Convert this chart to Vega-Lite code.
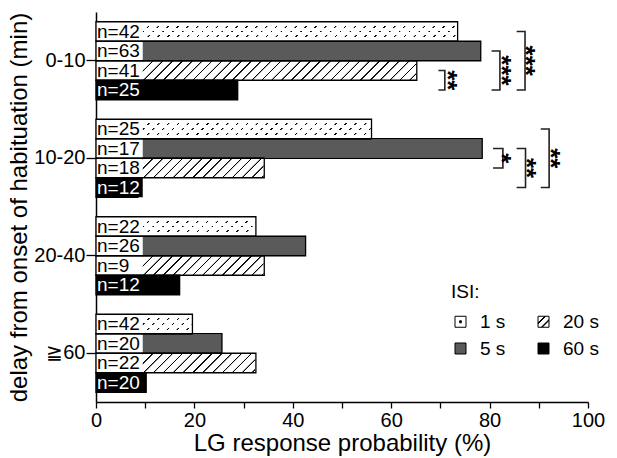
{
"$schema": "https://vega.github.io/schema/vega-lite/v6.json",
"width": 492, "height": 390,
"autosize": {"type": "none"},
"padding": {"left": 96, "top": 12, "right": 29, "bottom": 56},
"config": {
  "view": {"stroke": null},
  "font": "Liberation Sans",
  "axis": {"domainColor": "#000", "domainWidth": 1.5, "tickColor": "#000", "tickWidth": 1.3, "labelColor": "#000", "titleColor": "#000", "labelFontSize": 20, "titleFontSize": 24, "titleFontWeight": "normal", "grid": false}
},
"datasets": {
  "bars": [
    {"delay": "0-10", "isi": "1 s", "p": 73.5, "label": "n=42"},
    {"delay": "0-10", "isi": "5 s", "p": 78.2, "label": "n=63"},
    {"delay": "0-10", "isi": "20 s", "p": 65.2, "label": "n=41"},
    {"delay": "0-10", "isi": "60 s", "p": 28.8, "label": "n=25"},
    {"delay": "10-20", "isi": "1 s", "p": 56.0, "label": "n=25"},
    {"delay": "10-20", "isi": "5 s", "p": 78.5, "label": "n=17"},
    {"delay": "10-20", "isi": "20 s", "p": 34.2, "label": "n=18"},
    {"delay": "10-20", "isi": "60 s", "p": 8.5, "label": "n=12"},
    {"delay": "20-40", "isi": "1 s", "p": 32.5, "label": "n=22"},
    {"delay": "20-40", "isi": "5 s", "p": 42.6, "label": "n=26"},
    {"delay": "20-40", "isi": "20 s", "p": 34.2, "label": "n=9"},
    {"delay": "20-40", "isi": "60 s", "p": 17.0, "label": "n=12"},
    {"delay": "≧60", "isi": "1 s", "p": 19.6, "label": "n=42"},
    {"delay": "≧60", "isi": "5 s", "p": 25.6, "label": "n=20"},
    {"delay": "≧60", "isi": "20 s", "p": 32.5, "label": "n=22"},
    {"delay": "≧60", "isi": "60 s", "p": 10.2, "label": "n=20"}
  ],
  "brackets": [
    {"b": 1, "o": 1, "delay": "0-10", "isi": "20 s", "x": 69.6},
    {"b": 1, "o": 2, "delay": "0-10", "isi": "20 s", "x": 70.9},
    {"b": 1, "o": 3, "delay": "0-10", "isi": "60 s", "x": 70.9},
    {"b": 1, "o": 4, "delay": "0-10", "isi": "60 s", "x": 69.6},
    {"b": 2, "o": 1, "delay": "0-10", "isi": "5 s", "x": 80.4},
    {"b": 2, "o": 2, "delay": "0-10", "isi": "5 s", "x": 82.1},
    {"b": 2, "o": 3, "delay": "0-10", "isi": "60 s", "x": 82.1},
    {"b": 2, "o": 4, "delay": "0-10", "isi": "60 s", "x": 80.4},
    {"b": 3, "o": 1, "delay": "0-10", "isi": "1 s", "x": 85.5},
    {"b": 3, "o": 2, "delay": "0-10", "isi": "1 s", "x": 87.2},
    {"b": 3, "o": 3, "delay": "0-10", "isi": "60 s", "x": 87.2},
    {"b": 3, "o": 4, "delay": "0-10", "isi": "60 s", "x": 85.5},
    {"b": 4, "o": 1, "delay": "10-20", "isi": "5 s", "x": 80.7},
    {"b": 4, "o": 2, "delay": "10-20", "isi": "5 s", "x": 82.7},
    {"b": 4, "o": 3, "delay": "10-20", "isi": "20 s", "x": 82.7},
    {"b": 4, "o": 4, "delay": "10-20", "isi": "20 s", "x": 80.7},
    {"b": 5, "o": 1, "delay": "10-20", "isi": "5 s", "x": 85.5},
    {"b": 5, "o": 2, "delay": "10-20", "isi": "5 s", "x": 87.3},
    {"b": 5, "o": 3, "delay": "10-20", "isi": "60 s", "x": 87.3},
    {"b": 5, "o": 4, "delay": "10-20", "isi": "60 s", "x": 85.5},
    {"b": 6, "o": 1, "delay": "10-20", "isi": "1 s", "x": 90.4},
    {"b": 6, "o": 2, "delay": "10-20", "isi": "1 s", "x": 92.1},
    {"b": 6, "o": 3, "delay": "10-20", "isi": "60 s", "x": 92.1},
    {"b": 6, "o": 4, "delay": "10-20", "isi": "60 s", "x": 90.4}
  ],
  "stars": [
    {"delay": "0-10", "isi": "20 s", "pos": "edge", "x": 72.7, "s": "**"},
    {"delay": "0-10", "isi": "20 s", "pos": "mid", "x": 83.7, "s": "***"},
    {"delay": "0-10", "isi": "5 s", "pos": "edge", "x": 88.6, "s": "***"},
    {"delay": "10-20", "isi": "5 s", "pos": "edge", "x": 83.8, "s": "*"},
    {"delay": "10-20", "isi": "20 s", "pos": "mid", "x": 88.8, "s": "**"},
    {"delay": "10-20", "isi": "5 s", "pos": "edge", "x": 93.6, "s": "**"}
  ]
},
"layer": [
  {
    "data": {"name": "bars"},
    "mark": {"type": "bar"},
    "encoding": {
      "x": {"field": "p", "type": "quantitative", "scale": {"domain": [0, 100], "nice": false},
        "axis": {"title": "LG response probability (%)", "values": [0,10,20,30,40,50,60,70,80,90,100], "labelExpr": "datum.value % 20 == 0 ? datum.label : ''", "tickSize": 6, "labelPadding": 2, "titlePadding": 1, "labelFlush": false, "labelOverlap": false}},
      "y": {"field": "delay", "type": "nominal", "scale": {"domain": ["0-10", "10-20", "20-40", "≧60"], "paddingInner": 0.2, "paddingOuter": 0.1},
        "axis": {"title": "delay from onset of habituation (min)", "tickSize": 10, "labelPadding": 1, "titlePadding": 2}},
      "yOffset": {"field": "isi", "type": "nominal", "scale": {"domain": ["1 s", "5 s", "20 s", "60 s"], "paddingInner": 0, "paddingOuter": 0}},
      "fill": {"field": "isi", "type": "nominal",
        "scale": {"domain": ["1 s", "5 s", "20 s", "60 s"],
          "range": [
            {"expr": "{gradient: 'radial', x1: 0.5, y1: 0.5, r1: 0, x2: 0.5, y2: 0.5, r2: 0.5, stops: [{offset: 0, color: '#000'}, {offset: 0.22, color: '#000'}, {offset: 0.32, color: '#fff'}, {offset: 1, color: '#fff'}]}"},
            "#5a5a5a",
            {"expr": "{gradient: 'linear', x1: 0, y1: 0, x2: 1, y2: 1, stops: [{offset: 0, color: '#fff'}, {offset: 0.27, color: '#fff'}, {offset: 0.3, color: '#000'}, {offset: 0.36, color: '#000'}, {offset: 0.39, color: '#fff'}, {offset: 0.61, color: '#fff'}, {offset: 0.64, color: '#000'}, {offset: 0.7, color: '#000'}, {offset: 0.73, color: '#fff'}, {offset: 1, color: '#fff'}]}"},
            "#000"
          ]},
        "legend": {"orient": "none", "legendX": 355, "legendY": 271, "title": "ISI:", "titleFontSize": 19, "titleFontWeight": "normal", "titleColor": "#000", "titleFont": "Liberation Sans", "labelFontSize": 19, "labelColor": "#000", "labelFont": "Liberation Sans", "symbolType": "square", "symbolSize": 121, "symbolStrokeColor": "#000", "symbolStrokeWidth": 1, "columns": 2, "columnPadding": 28, "rowPadding": 7, "labelOffset": 10, "titlePadding": 10, "symbolOpacity": 1}}
    }
  },
  {
    "data": {"name": "bars"},
    "transform": [{"filter": "datum.isi == '1 s' || datum.isi == '20 s'"}],
    "mark": {"type": "bar", "fill": {"gradient": "linear", "x1": 0, "y1": 0, "x2": 1, "y2": 0.0397, "stops": [
      {"offset":0.014,"color":"#fff"},{"offset":0.015,"color":"#000"},{"offset":0.017,"color":"#000"},{"offset":0.018,"color":"#fff"},
      {"offset":0.034,"color":"#fff"},{"offset":0.035,"color":"#000"},{"offset":0.037,"color":"#000"},{"offset":0.038,"color":"#fff"},
      {"offset":0.054,"color":"#fff"},{"offset":0.055,"color":"#000"},{"offset":0.057,"color":"#000"},{"offset":0.058,"color":"#fff"},
      {"offset":0.074,"color":"#fff"},{"offset":0.075,"color":"#000"},{"offset":0.077,"color":"#000"},{"offset":0.078,"color":"#fff"},
      {"offset":0.094,"color":"#fff"},{"offset":0.095,"color":"#000"},{"offset":0.097,"color":"#000"},{"offset":0.098,"color":"#fff"},
      {"offset":0.114,"color":"#fff"},{"offset":0.115,"color":"#000"},{"offset":0.117,"color":"#000"},{"offset":0.118,"color":"#fff"},
      {"offset":0.134,"color":"#fff"},{"offset":0.135,"color":"#000"},{"offset":0.137,"color":"#000"},{"offset":0.138,"color":"#fff"},
      {"offset":0.154,"color":"#fff"},{"offset":0.155,"color":"#000"},{"offset":0.157,"color":"#000"},{"offset":0.158,"color":"#fff"},
      {"offset":0.174,"color":"#fff"},{"offset":0.175,"color":"#000"},{"offset":0.177,"color":"#000"},{"offset":0.178,"color":"#fff"},
      {"offset":0.194,"color":"#fff"},{"offset":0.195,"color":"#000"},{"offset":0.197,"color":"#000"},{"offset":0.198,"color":"#fff"},
      {"offset":0.214,"color":"#fff"},{"offset":0.215,"color":"#000"},{"offset":0.217,"color":"#000"},{"offset":0.218,"color":"#fff"},
      {"offset":0.234,"color":"#fff"},{"offset":0.235,"color":"#000"},{"offset":0.237,"color":"#000"},{"offset":0.238,"color":"#fff"},
      {"offset":0.254,"color":"#fff"},{"offset":0.255,"color":"#000"},{"offset":0.257,"color":"#000"},{"offset":0.258,"color":"#fff"},
      {"offset":0.274,"color":"#fff"},{"offset":0.275,"color":"#000"},{"offset":0.277,"color":"#000"},{"offset":0.278,"color":"#fff"},
      {"offset":0.294,"color":"#fff"},{"offset":0.295,"color":"#000"},{"offset":0.297,"color":"#000"},{"offset":0.298,"color":"#fff"},
      {"offset":0.314,"color":"#fff"},{"offset":0.315,"color":"#000"},{"offset":0.317,"color":"#000"},{"offset":0.318,"color":"#fff"},
      {"offset":0.334,"color":"#fff"},{"offset":0.335,"color":"#000"},{"offset":0.337,"color":"#000"},{"offset":0.338,"color":"#fff"},
      {"offset":0.354,"color":"#fff"},{"offset":0.355,"color":"#000"},{"offset":0.357,"color":"#000"},{"offset":0.358,"color":"#fff"},
      {"offset":0.374,"color":"#fff"},{"offset":0.375,"color":"#000"},{"offset":0.377,"color":"#000"},{"offset":0.378,"color":"#fff"},
      {"offset":0.394,"color":"#fff"},{"offset":0.395,"color":"#000"},{"offset":0.397,"color":"#000"},{"offset":0.398,"color":"#fff"},
      {"offset":0.414,"color":"#fff"},{"offset":0.415,"color":"#000"},{"offset":0.417,"color":"#000"},{"offset":0.418,"color":"#fff"},
      {"offset":0.434,"color":"#fff"},{"offset":0.435,"color":"#000"},{"offset":0.437,"color":"#000"},{"offset":0.438,"color":"#fff"},
      {"offset":0.454,"color":"#fff"},{"offset":0.455,"color":"#000"},{"offset":0.457,"color":"#000"},{"offset":0.458,"color":"#fff"},
      {"offset":0.474,"color":"#fff"},{"offset":0.475,"color":"#000"},{"offset":0.477,"color":"#000"},{"offset":0.478,"color":"#fff"},
      {"offset":0.494,"color":"#fff"},{"offset":0.495,"color":"#000"},{"offset":0.497,"color":"#000"},{"offset":0.498,"color":"#fff"},
      {"offset":0.514,"color":"#fff"},{"offset":0.515,"color":"#000"},{"offset":0.517,"color":"#000"},{"offset":0.518,"color":"#fff"},
      {"offset":0.534,"color":"#fff"},{"offset":0.535,"color":"#000"},{"offset":0.537,"color":"#000"},{"offset":0.538,"color":"#fff"},
      {"offset":0.554,"color":"#fff"},{"offset":0.555,"color":"#000"},{"offset":0.557,"color":"#000"},{"offset":0.558,"color":"#fff"},
      {"offset":0.574,"color":"#fff"},{"offset":0.575,"color":"#000"},{"offset":0.577,"color":"#000"},{"offset":0.578,"color":"#fff"},
      {"offset":0.594,"color":"#fff"},{"offset":0.595,"color":"#000"},{"offset":0.597,"color":"#000"},{"offset":0.598,"color":"#fff"},
      {"offset":0.614,"color":"#fff"},{"offset":0.615,"color":"#000"},{"offset":0.617,"color":"#000"},{"offset":0.618,"color":"#fff"},
      {"offset":0.634,"color":"#fff"},{"offset":0.635,"color":"#000"},{"offset":0.637,"color":"#000"},{"offset":0.638,"color":"#fff"},
      {"offset":0.654,"color":"#fff"},{"offset":0.655,"color":"#000"},{"offset":0.657,"color":"#000"},{"offset":0.658,"color":"#fff"},
      {"offset":0.674,"color":"#fff"},{"offset":0.675,"color":"#000"},{"offset":0.677,"color":"#000"},{"offset":0.678,"color":"#fff"},
      {"offset":0.694,"color":"#fff"},{"offset":0.695,"color":"#000"},{"offset":0.697,"color":"#000"},{"offset":0.698,"color":"#fff"},
      {"offset":0.714,"color":"#fff"},{"offset":0.715,"color":"#000"},{"offset":0.717,"color":"#000"},{"offset":0.718,"color":"#fff"},
      {"offset":0.734,"color":"#fff"},{"offset":0.735,"color":"#000"},{"offset":0.737,"color":"#000"},{"offset":0.738,"color":"#fff"},
      {"offset":0.754,"color":"#fff"},{"offset":0.755,"color":"#000"},{"offset":0.757,"color":"#000"},{"offset":0.758,"color":"#fff"},
      {"offset":0.774,"color":"#fff"},{"offset":0.775,"color":"#000"},{"offset":0.777,"color":"#000"},{"offset":0.778,"color":"#fff"},
      {"offset":0.794,"color":"#fff"},{"offset":0.795,"color":"#000"},{"offset":0.797,"color":"#000"},{"offset":0.798,"color":"#fff"},
      {"offset":0.814,"color":"#fff"},{"offset":0.815,"color":"#000"},{"offset":0.817,"color":"#000"},{"offset":0.818,"color":"#fff"},
      {"offset":0.834,"color":"#fff"},{"offset":0.835,"color":"#000"},{"offset":0.837,"color":"#000"},{"offset":0.838,"color":"#fff"},
      {"offset":0.854,"color":"#fff"},{"offset":0.855,"color":"#000"},{"offset":0.857,"color":"#000"},{"offset":0.858,"color":"#fff"},
      {"offset":0.874,"color":"#fff"},{"offset":0.875,"color":"#000"},{"offset":0.877,"color":"#000"},{"offset":0.878,"color":"#fff"},
      {"offset":0.894,"color":"#fff"},{"offset":0.895,"color":"#000"},{"offset":0.897,"color":"#000"},{"offset":0.898,"color":"#fff"},
      {"offset":0.914,"color":"#fff"},{"offset":0.915,"color":"#000"},{"offset":0.917,"color":"#000"},{"offset":0.918,"color":"#fff"},
      {"offset":0.934,"color":"#fff"},{"offset":0.935,"color":"#000"},{"offset":0.937,"color":"#000"},{"offset":0.938,"color":"#fff"},
      {"offset":0.954,"color":"#fff"},{"offset":0.955,"color":"#000"},{"offset":0.957,"color":"#000"},{"offset":0.958,"color":"#fff"},
      {"offset":0.974,"color":"#fff"},{"offset":0.975,"color":"#000"},{"offset":0.977,"color":"#000"},{"offset":0.978,"color":"#fff"},
      {"offset":0.994,"color":"#fff"},{"offset":0.995,"color":"#000"},{"offset":0.997,"color":"#000"},{"offset":0.998,"color":"#fff"}
    ]}},
    "encoding": {
      "x": {"datum": 0}, "x2": {"datum": 100},
      "y": {"field": "delay", "type": "nominal"},
      "yOffset": {"field": "isi", "type": "nominal"}
    }
  },
  {
    "data": {"name": "bars"},
    "transform": [{"filter": "datum.isi == '1 s'"}],
    "mark": {"type": "bar", "fill": {"gradient": "linear", "x1": 0, "y1": 0, "x2": 0, "y2": 1, "stops": [
      {"offset": 0, "color": "#fff"}, {"offset": 0.2, "color": "#fff"}, {"offset": 0.2, "color": "rgba(255,255,255,0)"}, {"offset": 0.3, "color": "rgba(255,255,255,0)"},
      {"offset": 0.3, "color": "#fff"}, {"offset": 0.45, "color": "#fff"}, {"offset": 0.45, "color": "rgba(255,255,255,0)"}, {"offset": 0.55, "color": "rgba(255,255,255,0)"},
      {"offset": 0.55, "color": "#fff"}, {"offset": 0.7, "color": "#fff"}, {"offset": 0.7, "color": "rgba(255,255,255,0)"}, {"offset": 0.8, "color": "rgba(255,255,255,0)"},
      {"offset": 0.8, "color": "#fff"}, {"offset": 1, "color": "#fff"}]}},
    "encoding": {
      "x": {"datum": 0}, "x2": {"datum": 100},
      "y": {"field": "delay", "type": "nominal"},
      "yOffset": {"field": "isi", "type": "nominal"}
    }
  },
  {
    "data": {"name": "bars"},
    "transform": [{"filter": "datum.isi == '1 s' || datum.isi == '20 s'"}],
    "mark": {"type": "bar", "fill": "#fff", "stroke": "#fff", "strokeWidth": 1.5},
    "encoding": {
      "x": {"field": "p", "type": "quantitative"}, "x2": {"datum": 100},
      "y": {"field": "delay", "type": "nominal"},
      "yOffset": {"field": "isi", "type": "nominal"}
    }
  },
  {
    "data": {"name": "bars"},
    "mark": {"type": "bar"},
    "encoding": {
      "x": {"datum": 0}, "x2": {"datum": 9.5},
      "y": {"field": "delay", "type": "nominal"},
      "yOffset": {"field": "isi", "type": "nominal"},
      "fill": {"condition": {"test": "datum.isi == '60 s'", "value": "#000"}, "value": "#fff"}
    }
  },
  {
    "data": {"name": "bars"},
    "mark": {"type": "bar", "fill": "transparent", "stroke": "#000", "strokeWidth": 1.3},
    "encoding": {
      "x": {"field": "p", "type": "quantitative"},
      "y": {"field": "delay", "type": "nominal"},
      "yOffset": {"field": "isi", "type": "nominal"}
    }
  },
  {
    "data": {"name": "bars"},
    "mark": {"type": "text", "align": "left", "baseline": "middle", "dx": 1, "fontSize": 19, "font": "Liberation Sans"},
    "encoding": {
      "x": {"datum": 0},
      "y": {"field": "delay", "type": "nominal"},
      "yOffset": {"field": "isi", "type": "nominal"},
      "text": {"field": "label"},
      "color": {"condition": {"test": "datum.isi == '60 s'", "value": "#fff"}, "value": "#000"}
    }
  },
  {
    "data": {"name": "brackets"},
    "mark": {"type": "line", "stroke": "#222", "strokeWidth": 1.6},
    "encoding": {
      "x": {"field": "x", "type": "quantitative"},
      "y": {"field": "delay", "type": "nominal"},
      "yOffset": {"field": "isi", "type": "nominal"},
      "detail": {"field": "b"},
      "order": {"field": "o"}
    }
  },
  {
    "data": {"name": "stars"},
    "transform": [{"filter": "datum.pos == 'mid'"}],
    "mark": {"type": "text", "angle": 90, "align": "center", "baseline": "middle", "fontSize": 26, "fontWeight": "bold", "dy": 7, "font": "Liberation Sans", "color": "#000"},
    "encoding": {
      "x": {"field": "x", "type": "quantitative"},
      "y": {"field": "delay", "type": "nominal"},
      "yOffset": {"field": "isi", "type": "nominal"},
      "text": {"field": "s"}
    }
  },
  {
    "data": {"name": "stars"},
    "transform": [{"filter": "datum.pos == 'edge'"}],
    "mark": {"type": "text", "angle": 90, "align": "center", "baseline": "middle", "fontSize": 26, "fontWeight": "bold", "dx": 9.75, "dy": 7, "font": "Liberation Sans", "color": "#000"},
    "encoding": {
      "x": {"field": "x", "type": "quantitative"},
      "y": {"field": "delay", "type": "nominal"},
      "yOffset": {"field": "isi", "type": "nominal"},
      "text": {"field": "s"}
    }
  }
]
}
